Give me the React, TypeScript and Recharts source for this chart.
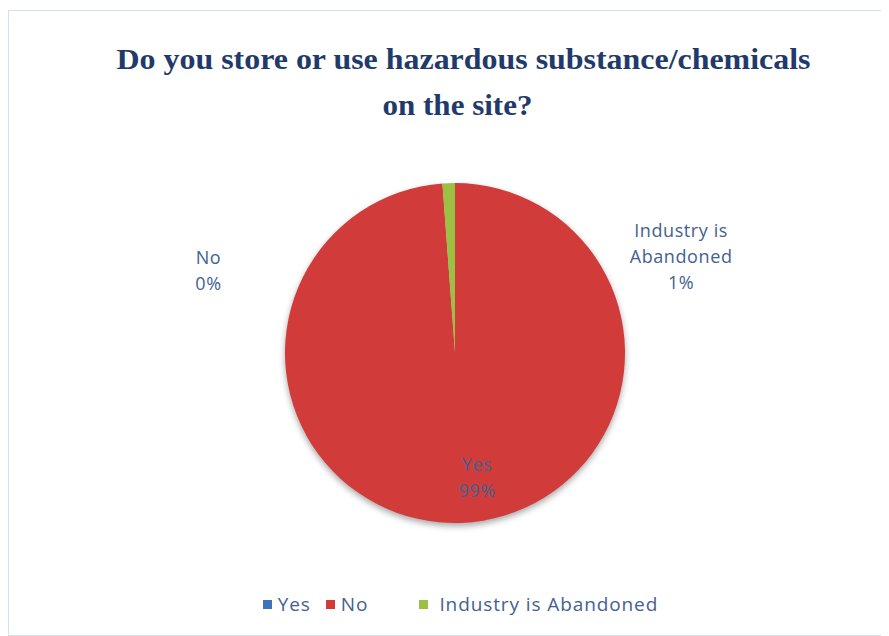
import { PieChart, Pie, Cell, Legend } from "recharts";

// chart values
const categories = ["Yes", "No", "Industry is Abandoned"];
const counts = [0, 84, 1];
// text that the original chart printed next to each slice
const sliceLabelLines = [["No"], ["Yes"], ["Industry is", "Abandoned"]];
const colors = ["#3f72b8", "#d13c3a", "#9cc043"];

const TITLE_1 = "Do you store or use hazardous substance/chemicals";
const TITLE_2 = "on the site?";

const W = 881;
const H = 624;
const TEXT = "#44618f";
const FONT = "'Open Sans', Lato, sans-serif";

// label placement around the pie, in units of the outer radius
const labelOffsets = [
    { dx: -1.45, dy: -0.49 },
    { dx: 0.13, dy: 0.73 },
    { dx: 1.33, dy: -0.57 },
];

const data = categories.map((name, i) => ({ name, value: counts[i] }));
const total = counts.reduce((a, b) => a + b, 0);

const renderLabel = (props: any) => {
    const { cx, cy, outerRadius, index } = props;
    const off = labelOffsets[index];
    const x = cx + off.dx * outerRadius;
    const y = cy + off.dy * outerRadius;
    const lines = [...sliceLabelLines[index], `${Math.round((counts[index] / total) * 100)}%`];
    const lh = 26;
    const y0 = y - ((lines.length - 1) * lh) / 2;
    return (
        <text x={x} y={y0} textAnchor="middle" dominantBaseline="central" fill={TEXT} fontFamily={FONT} fontSize={18} letterSpacing={0.6}>
            {lines.map((l, i) => (
                <tspan key={i} x={x} dy={i === 0 ? 0 : lh}>{l}</tspan>
            ))}
        </text>
    );
};

const renderLegend = () => (
    <div style={{ display: "flex", justifyContent: "center", fontFamily: FONT, fontSize: 19, letterSpacing: 0.9, color: TEXT, paddingLeft: 22 }}>
        {categories.map((c, i) => (
            <div key={c} style={{ display: "flex", alignItems: "center", marginRight: i === 0 ? 15 : i === 1 ? 51 : 0 }}>
                <span style={{ width: 9, height: 9, background: colors[i], marginRight: i === 2 ? 11 : 6, display: "inline-block" }} />
                <span>{c}</span>
            </div>
        ))}
    </div>
);

export default function App() {
    return (
        <div style={{ position: "relative", width: W, height: H, marginTop: 2, border: "1.5px solid #d7e0ec", background: "#fff" }}>
            <style>{"body{overflow:hidden}"}</style>
            <svg width={W} height={130} style={{ position: "absolute", left: 0, top: 0 }}>
                <text x={W / 2 + 14} y={58} textAnchor="middle" fill="#1f3a6b" fontFamily="'Liberation Serif', serif" fontWeight="bold" fontSize={30} textLength={694} lengthAdjust="spacingAndGlyphs">
                    {TITLE_1}
                </text>
                <text x={W / 2 + 8} y={104} textAnchor="middle" fill="#1f3a6b" fontFamily="'Liberation Serif', serif" fontWeight="bold" fontSize={30} textLength={150} lengthAdjust="spacingAndGlyphs">
                    {TITLE_2}
                </text>
            </svg>
            <PieChart width={W} height={H} style={{ position: "absolute", left: 0, top: 0 }}>
                <Pie
                    data={data}
                    dataKey="value"
                    nameKey="name"
                    cx={441}
                    cy={337}
                    outerRadius={170}
                    startAngle={90}
                    endAngle={-270}
                    stroke="none"
                    label={renderLabel}
                    labelLine={false}
                    isAnimationActive={false}
                >
                    {data.map((d, i) => (
                        <Cell key={d.name} fill={colors[i]} style={i === 1 ? { filter: "drop-shadow(0px 3px 3px rgba(0,0,0,0.35))" } : undefined} />
                    ))}
                </Pie>
                <Legend content={renderLegend} wrapperStyle={{ top: 580, left: 0, width: W }} />
            </PieChart>
        </div>
    );
}
